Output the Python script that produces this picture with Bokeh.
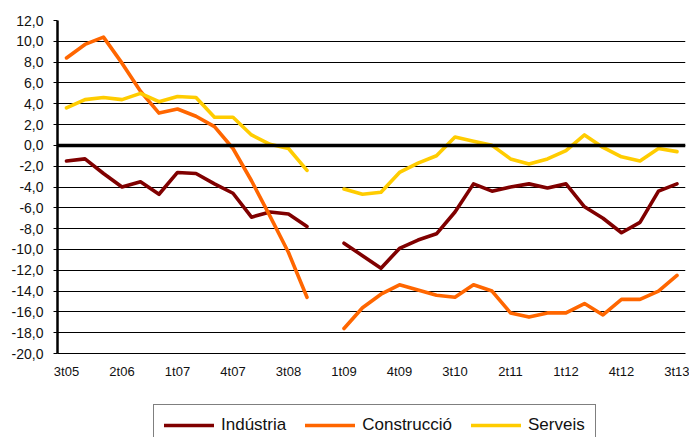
import numpy as np
from bokeh.plotting import figure
from bokeh.layouts import column
from bokeh.models import FixedTicker, Span, Legend, LegendItem, Range1d
from bokeh.embed import file_html
from bokeh.resources import INLINE

nan = np.nan

quarters = ["3t05", "4t05", "1t06", "2t06", "3t06", "4t06", "1t07", "2t07", "3t07", "4t07",
            "1t08", "2t08", "3t08", "4t08", "", "1t09", "2t09", "3t09", "4t09",
            "1t10", "2t10", "3t10", "4t10", "1t11", "2t11", "3t11", "4t11",
            "1t12", "2t12", "3t12", "4t12", "1t13", "2t13", "3t13"]

industria = [-1.5, -1.3, -2.7, -4.0, -3.5, -4.7, -2.6, -2.7, -3.7, -4.6,
             -6.9, -6.4, -6.6, -7.8, nan, -9.4, -10.6, -11.8, -9.9,
             -9.1, -8.5, -6.4, -3.7, -4.4, -4.0, -3.7, -4.1,
             -3.7, -5.9, -7.0, -8.4, -7.4, -4.4, -3.7]

construccio = [8.4, 9.7, 10.4, 7.9, 5.2, 3.1, 3.5, 2.8, 1.8, -0.3,
               -3.4, -6.8, -10.3, -14.6, nan, -17.6, -15.6, -14.3, -13.4,
               -13.9, -14.4, -14.6, -13.4, -14.0, -16.1, -16.5, -16.1,
               -16.1, -15.2, -16.3, -14.8, -14.8, -14.0, -12.5]

serveis = [3.6, 4.4, 4.6, 4.4, 5.0, 4.2, 4.7, 4.6, 2.7, 2.7,
           1.0, 0.1, -0.3, -2.4, nan, -4.2, -4.7, -4.5, -2.6,
           -1.7, -1.0, 0.8, 0.4, 0.0, -1.3, -1.8, -1.3,
           -0.5, 1.0, -0.2, -1.1, -1.5, -0.3, -0.6]

series_names = ["Indústria", "Construcció", "Serveis"]
series_colors = ["#800000", "#FF6600", "#FFCC00"]

y_ticks = list(range(-20, 13, 2))
y_tick_labels = ["-20,0", "-18,0", "-16,0", "-14,0", "-12,0", "-10,0", "-8,0", "-6,0",
                 "-4,0", "-2,0", "0,0", "2,0", "4,0", "6,0", "8,0", "10,0", "12,0"]

x = np.arange(len(quarters))
x_ticks = list(range(0, len(quarters), 3))

FONT = "Liberation Sans"

p = figure(width=689, height=401, output_backend="svg", toolbar_location=None,
           x_range=Range1d(-0.486, 33.46), y_range=Range1d(-20, 12),
           min_border_left=57, min_border_right=4, min_border_top=20, min_border_bottom=48)
p.outline_line_color = None

renderers = []
for vals, name, col in zip([industria, construccio, serveis], series_names, series_colors):
    r = p.line(x, np.array(vals, dtype=float), line_color=col, line_width=3.6,
               line_join="round", line_cap="round")
    renderers.append(r)

p.add_layout(Span(location=0, dimension="width", line_color="black", line_width=3.5))

p.yaxis.ticker = FixedTicker(ticks=y_ticks)
p.yaxis.major_label_overrides = {t: l for t, l in zip(y_ticks, y_tick_labels)}
p.yaxis.axis_line_color = "black"
p.yaxis.axis_line_width = 2.5
p.yaxis.major_tick_out = 4
p.yaxis.major_tick_in = 0
p.yaxis.major_tick_line_color = "black"
p.yaxis.minor_tick_line_color = None
p.yaxis.major_label_standoff = 10
p.yaxis.major_label_text_font = FONT
p.yaxis.major_label_text_font_size = "14px"
p.yaxis.major_label_text_color = "#111111"

p.xaxis.ticker = FixedTicker(ticks=x_ticks)
p.xaxis.major_label_overrides = {int(t): quarters[t] for t in x_ticks}
p.xaxis.axis_line_color = "black"
p.xaxis.axis_line_width = 1
p.xaxis.major_tick_out = 0
p.xaxis.major_tick_in = 0
p.xaxis.minor_tick_line_color = None
p.xaxis.major_label_standoff = 10
p.xaxis.major_label_text_font = FONT
p.xaxis.major_label_text_font_size = "13px"
p.xaxis.major_label_text_color = "#111111"

p.xgrid.grid_line_color = None
p.ygrid.grid_line_color = "black"
p.ygrid.grid_line_width = 1.2

# legend strip below the chart (legend proxies carry no visible data)
lf = figure(width=689, height=36, output_backend="svg", toolbar_location=None,
            x_range=Range1d(0, 1), y_range=Range1d(0, 1),
            min_border_left=57, min_border_right=4, min_border_top=0, min_border_bottom=0)
lf.outline_line_color = None
lf.axis.visible = False
lf.grid.visible = False
proxies = [lf.line([0, 1], [nan, nan], line_color=c, line_width=3.6, line_cap="round")
           for c in series_colors]

legend = Legend(items=[LegendItem(label=n, renderers=[r]) for n, r in zip(series_names, proxies)],
                orientation="horizontal", location=(96, -9),
                padding=10, spacing=19, label_standoff=7, glyph_width=50, glyph_height=20,
                border_line_color="black", border_line_width=1,
                label_text_font=FONT, label_text_font_size="17px",
                label_text_color="#111111", background_fill_alpha=1.0)
lf.add_layout(legend)

layout = column(p, lf, spacing=0)
open("out.html", "w").write(file_html(layout, INLINE))
